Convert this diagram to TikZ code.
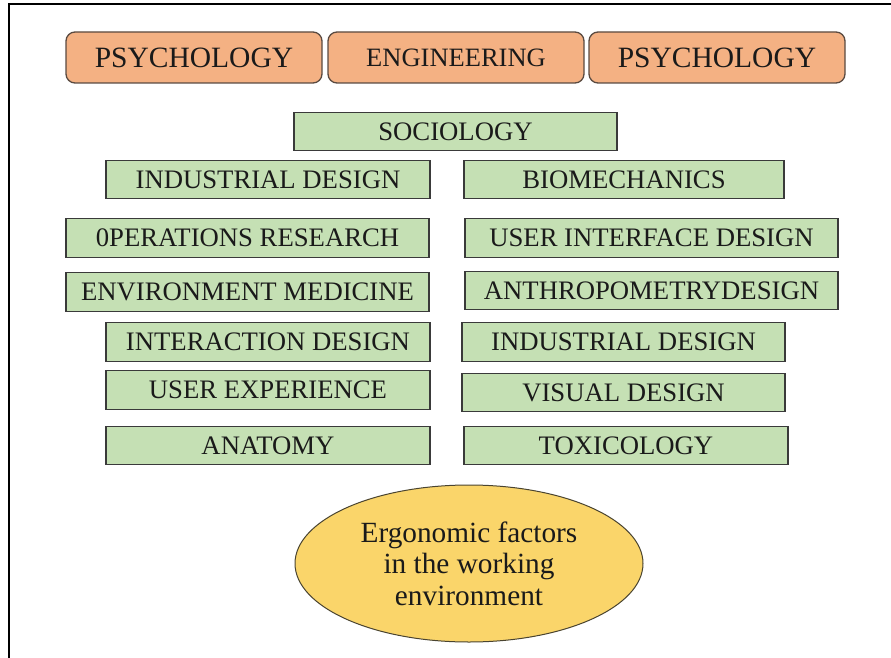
\documentclass[tikz,border=0pt]{standalone}
\usepackage{fontspec}
\setmainfont{Liberation Serif}
\usetikzlibrary{shapes.geometric}
\definecolor{orfill}{HTML}{F4B183}
\definecolor{ordraw}{HTML}{5A4A40}
\definecolor{grfill}{HTML}{C5E0B4}
\definecolor{grdraw}{HTML}{3A3A3A}
\definecolor{elfill}{HTML}{FAD56A}
\definecolor{eldraw}{HTML}{4A4430}
\definecolor{txt}{HTML}{1A1A1A}
\tikzset{
  obox/.style={draw=ordraw, fill=orfill, line width=1.3pt, rounded corners=9pt,
    inner sep=0pt, minimum width=256pt, minimum height=51pt, text=txt},
  gbox/.style={draw=grdraw, fill=grfill, line width=1.4pt, inner sep=0pt,
    minimum height=38.5pt, text=txt, font=\fontsize{26.7}{28}\selectfont},
  ergo/.style={draw=eldraw, fill=elfill, line width=1pt, ellipse, inner sep=0pt,
    minimum width=348pt, minimum height=157pt, align=center, text=txt,
    font=\fontsize{29.3}{31.5}\selectfont},
}
\begin{document}
\begin{tikzpicture}[x=1pt,y=-1pt]
\useasboundingbox (0,0) rectangle (891,658);
\draw[line width=1.8pt] (9,658) -- (9,4) -- (891,4);
% top boxes
\node[obox, font=\fontsize{29.5}{31}\selectfont] (o1) at (194,57.5) {PSYCHOLOGY};
\node[obox, font=\fontsize{26.5}{28}\selectfont] (o2) at (456,57.5) {ENGINEERING};
\node[obox, font=\fontsize{29.5}{31}\selectfont] (o3) at (717,57.5) {PSYCHOLOGY};
% green boxes
\node[gbox, minimum width=323pt] (g1) at (455.5,131.5) {SOCIOLOGY};
\node[gbox, minimum width=324pt] (g2) at (268,179.5) {INDUSTRIAL DESIGN};
\node[gbox, minimum width=320pt] (g3) at (624,179.5) {BIOMECHANICS};
\node[gbox, minimum width=363pt] (g4) at (247.5,238) {0PERATIONS RESEARCH};
\node[gbox, minimum width=373pt] (g5) at (651.5,238) {USER INTERFACE DESIGN};
\node[gbox, minimum width=363pt] (g6) at (247.5,292) {ENVIRONMENT MEDICINE};
\node[gbox, minimum width=373pt] (g7) at (651.5,290.5) {ANTHROPOMETRYDESIGN};
\node[gbox, minimum width=324pt] (g8) at (268,342) {INTERACTION DESIGN};
\node[gbox, minimum width=323pt] (g9) at (623.5,342) {INDUSTRIAL DESIGN};
\node[gbox, minimum width=324pt] (g10) at (268,390) {USER EXPERIENCE};
\node[gbox, minimum width=323pt] (g11) at (623.5,392.5) {VISUAL DESIGN};
\node[gbox, minimum width=324pt] (g12) at (268,445.5) {ANATOMY};
\node[gbox, minimum width=324pt] (g13) at (626,445.5) {TOXICOLOGY};
% ellipse
\node[ergo] (e) at (469,563.5) {Ergonomic factors\\in the working\\environment};
\end{tikzpicture}
\end{document}
